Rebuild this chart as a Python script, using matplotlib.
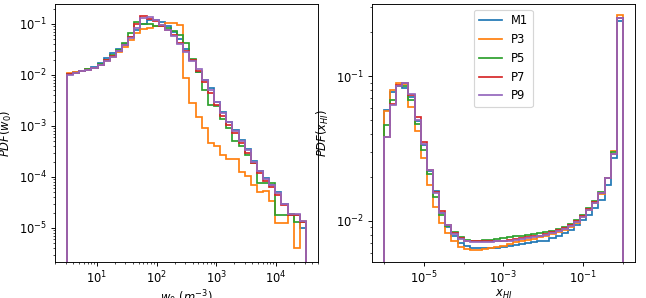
import matplotlib
matplotlib.use("Agg")
import matplotlib.pyplot as plt
from matplotlib.lines import Line2D
from matplotlib.ticker import FixedLocator, LogLocator, NullFormatter
import numpy as np

labels = ["M1", "P3", "P5", "P7", "P9"]
colors = ["tab:blue", "tab:orange", "tab:green", "tab:red", "tab:purple"]

# bin edges (log spaced, 39 bins)
w0_edges = np.logspace(0.5, 4.5, 40)
xhi_edges = np.logspace(-6, 0, 40)

# PDF(w0) per model
w0_M1 = [0.0103, 0.0112, 0.0121, 0.013, 0.0145, 0.017, 0.0212, 0.027, 0.032, 0.040,
         0.055, 0.075, 0.10, 0.122, 0.118, 0.11, 0.092, 0.07, 0.05, 0.033,
         0.020, 0.0115, 0.0078, 0.0055, 0.0030, 0.0019, 0.0012, 0.00082, 0.00052, 0.00036,
         0.00021, 0.00013, 9.5e-5, 7.1e-5, 5e-5, 3e-5, 1.8e-5, 1.8e-5, 1e-5]
w0_P3 = [0.0108, 0.0114, 0.0122, 0.0128, 0.0138, 0.0155, 0.0185, 0.022, 0.028, 0.036,
         0.049, 0.067, 0.079, 0.085, 0.09, 0.095, 0.103, 0.103, 0.096, 0.0088,
         0.0028, 0.0015, 0.0009, 0.00047, 0.0004, 0.00027, 0.00023, 0.00022, 0.000126, 0.000104,
         6.9e-5, 5.1e-5, 5.4e-5, 3.4e-5, 1.26e-5, 1.26e-5, 1.85e-5, 4e-6, 1.36e-5]
w0_P5 = [0.0103, 0.011, 0.012, 0.0128, 0.014, 0.0163, 0.020, 0.025, 0.031, 0.043,
         0.068, 0.11, 0.10, 0.10, 0.092, 0.09, 0.085, 0.072, 0.06, 0.043,
         0.021, 0.0115, 0.0051, 0.0026, 0.0025, 0.0014, 0.0009, 0.0005, 0.0004, 0.00027,
         0.00019, 7.6e-5, 7.6e-5, 7.6e-5, 1.8e-5, 1.8e-5, 1.9e-5, 1.3e-5, 1.3e-5]
w0_P7 = [0.0103, 0.011, 0.0118, 0.0127, 0.0138, 0.016, 0.0195, 0.024, 0.030, 0.039,
         0.056, 0.10, 0.146, 0.124, 0.113, 0.092, 0.076, 0.062, 0.043, 0.030,
         0.020, 0.0122, 0.0072, 0.0045, 0.0026, 0.0016, 0.00105, 0.00072, 0.00046, 0.0003,
         0.00019, 0.00012, 8.5e-5, 6.3e-5, 4.4e-5, 2.8e-5, 1.8e-5, 1.8e-5, 1.3e-5]
w0_P9 = [0.0102, 0.011, 0.0118, 0.0126, 0.0135, 0.0155, 0.019, 0.023, 0.029, 0.038,
         0.052, 0.085, 0.128, 0.135, 0.118, 0.097, 0.077, 0.057, 0.040, 0.028,
         0.019, 0.0132, 0.0081, 0.0051, 0.0029, 0.0018, 0.0012, 0.0008, 0.0005, 0.00034,
         0.0002, 0.000128, 9.3e-5, 6.9e-5, 4.8e-5, 3e-5, 1.85e-5, 1.85e-5, 1.36e-5]

# PDF(x_HI) per model
xhi_M1 = [0.058, 0.078, 0.086, 0.083, 0.072, 0.049, 0.0335, 0.022, 0.016, 0.0113,
          0.009, 0.0078, 0.0070, 0.0067, 0.0065, 0.0065, 0.0065, 0.0065, 0.0065, 0.0066,
          0.0067, 0.0068, 0.0069, 0.0070, 0.0071, 0.0072, 0.0073, 0.0076, 0.0078, 0.0082,
          0.0086, 0.0093, 0.0101, 0.011, 0.0122, 0.0139, 0.0177, 0.027, 0.24]
xhi_P3 = [0.057, 0.080, 0.090, 0.088, 0.061, 0.042, 0.027, 0.0177, 0.0125, 0.0097,
          0.0082, 0.0072, 0.0066, 0.0064, 0.0063, 0.0063, 0.0064, 0.0065, 0.0066, 0.0067,
          0.0069, 0.0071, 0.0072, 0.0074, 0.0075, 0.0077, 0.0079, 0.0081, 0.0084, 0.0087,
          0.0091, 0.0097, 0.0106, 0.0118, 0.0132, 0.0154, 0.0197, 0.0303, 0.264]
xhi_P5 = [0.046, 0.068, 0.085, 0.086, 0.068, 0.047, 0.031, 0.021, 0.0145, 0.011,
          0.0092, 0.0083, 0.0077, 0.0074, 0.0073, 0.0073, 0.0074, 0.0074, 0.0075, 0.0076,
          0.0077, 0.0078, 0.0079, 0.0080, 0.0081, 0.0082, 0.0083, 0.0085, 0.0088, 0.0091,
          0.0095, 0.0101, 0.011, 0.0122, 0.0136, 0.0157, 0.0198, 0.030, 0.25]
xhi_P7 = [0.038, 0.064, 0.087, 0.089, 0.074, 0.052, 0.035, 0.0226, 0.0158, 0.0116,
          0.0094, 0.0082, 0.0076, 0.0073, 0.0072, 0.0072, 0.0072, 0.0072, 0.0073, 0.0073,
          0.0074, 0.0075, 0.0076, 0.0077, 0.0078, 0.0079, 0.0081, 0.0083, 0.0086, 0.0089,
          0.0093, 0.0099, 0.0108, 0.012, 0.0134, 0.0156, 0.0197, 0.029, 0.25]
xhi_P9 = [0.038, 0.063, 0.086, 0.090, 0.075, 0.050, 0.034, 0.0224, 0.0156, 0.0114,
          0.0093, 0.0081, 0.0075, 0.0072, 0.0071, 0.0071, 0.0071, 0.0071, 0.0072, 0.0072,
          0.0073, 0.0074, 0.0075, 0.0076, 0.0077, 0.0078, 0.0080, 0.0082, 0.0085, 0.0088,
          0.0092, 0.0098, 0.0107, 0.0119, 0.0133, 0.0155, 0.0196, 0.029, 0.25]

w0_all = [w0_M1, w0_P3, w0_P5, w0_P7, w0_P9]
xhi_all = [xhi_M1, xhi_P3, xhi_P5, xhi_P7, xhi_P9]

xhi_major = [1e-5, 1e-3, 1e-1]

# figure drawn at 83 dpi so it comes out 646x298 px
DPI = 83
fig = plt.figure(figsize=(646 / DPI, 298 / DPI), dpi=DPI)
ax1 = fig.add_axes([0.0851, 0.1208, 0.407, 0.866])
ax2 = fig.add_axes([0.5759, 0.1208, 0.407, 0.866])

for lab, col, vals in zip(labels, colors, w0_all):
    ax1.hist(w0_edges[:-1], bins=w0_edges, weights=vals, histtype="step",
             lw=1.5, color=col, label=lab)
for lab, col, vals in zip(labels, colors, xhi_all):
    ax2.hist(xhi_edges[:-1], bins=xhi_edges, weights=vals, histtype="step",
             lw=1.5, color=col, label=lab)

ax1.set_xscale("log")
ax1.set_yscale("log")
ax1.set_xlim(10**0.3, 10**4.7)
ax1.set_ylim(2.15e-6, 0.247)
ax1.set_xlabel(r"$w_0\ (m^{-3})$", labelpad=1)
ax1.set_ylabel(r"$PDF(w_0)$")

ax2.set_xscale("log")
ax2.set_yscale("log")
ax2.set_xlim(10**-6.3, 10**0.3)
ax2.set_ylim(0.00519, 0.315)
ax2.xaxis.set_major_locator(FixedLocator(xhi_major))
ax2.xaxis.set_minor_locator(LogLocator(base=10, subs=[1.0], numticks=20))
ax2.xaxis.set_minor_formatter(NullFormatter())
ax2.set_xlabel(r"$x_{HI}$", labelpad=1)
ax2.set_ylabel(r"$PDF(x_{HI})$")

handles = [Line2D([], [], color=c, lw=1.5) for c in colors]
ax2.legend(handles, labels, loc="upper center")

fig.savefig("out.png", dpi=DPI)
